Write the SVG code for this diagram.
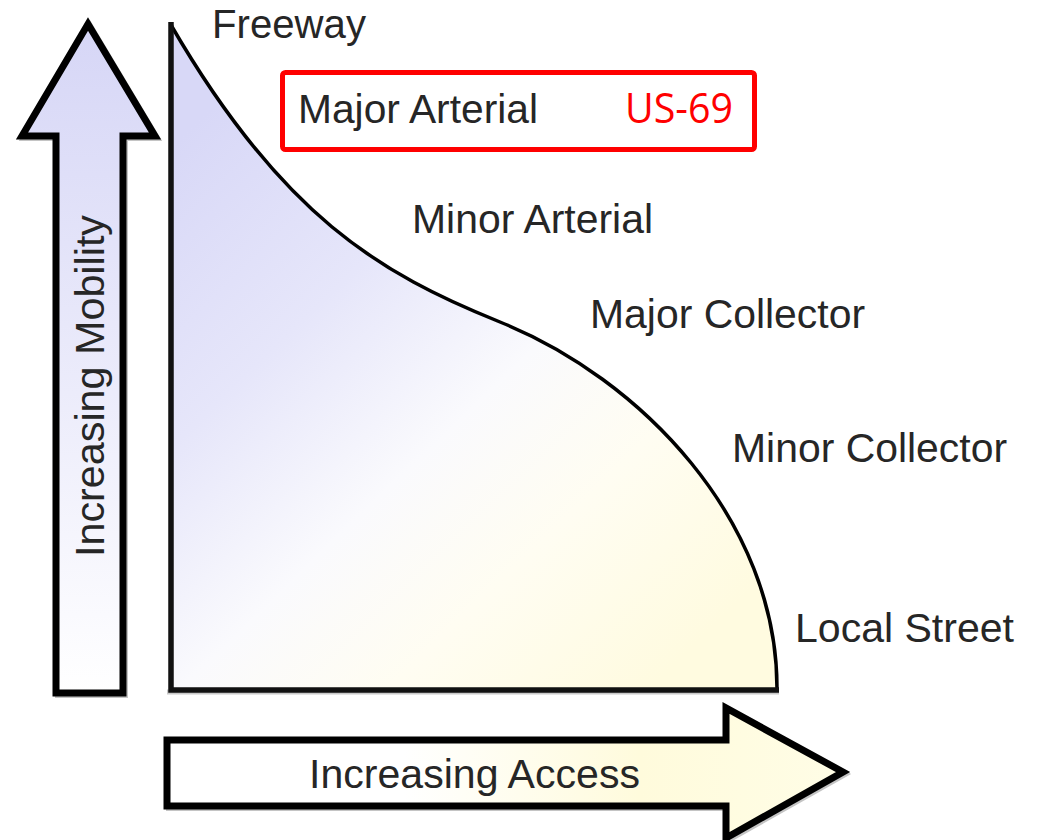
<svg xmlns="http://www.w3.org/2000/svg" width="1041" height="840" viewBox="0 0 1041 840">
  <defs>
    <linearGradient id="gMob" x1="0" y1="0" x2="0" y2="1">
      <stop offset="0" stop-color="#d6d6f6"/>
      <stop offset="0.55" stop-color="#ececfb"/>
      <stop offset="1" stop-color="#ffffff"/>
    </linearGradient>
    <linearGradient id="gArea" gradientUnits="userSpaceOnUse" x1="220" y1="100" x2="720" y2="620">
      <stop offset="0" stop-color="#d8d8f7"/>
      <stop offset="0.3" stop-color="#e6e6fa"/>
      <stop offset="0.55" stop-color="#fafafd"/>
      <stop offset="0.75" stop-color="#fffdf2"/>
      <stop offset="1" stop-color="#fffbe0"/>
    </linearGradient>
    <linearGradient id="gAcc" gradientUnits="userSpaceOnUse" x1="167" y1="0" x2="843" y2="0">
      <stop offset="0" stop-color="#ffffff"/>
      <stop offset="0.35" stop-color="#ffffff"/>
      <stop offset="0.7" stop-color="#fffbdc"/>
      <stop offset="1" stop-color="#fffde6"/>
    </linearGradient>
  </defs>
  <style>
    .lbl { font-family: "Liberation Sans", Arial, sans-serif; font-size: 40.5px; fill: #262626; }
    .us { font-family: "Open Sans", "Noto Sans", sans-serif; font-size: 42px; fill: #ff0000; }
    .shadow { fill: none; stroke: #c4c4c4; stroke-width: 6; }
    .outline { stroke: #000; stroke-width: 7; stroke-linejoin: miter; }
  </style>

  <g id="mobility-arrow">
    <polygon class="shadow" points="58,695 58,138 24,138 90,26 157,138 125,138 125,695"/>
    <polygon class="outline" fill="url(#gMob)" points="56,693 56,136 22,136 88,24 155,136 123,136 123,693"/>
    <text class="lbl" transform="translate(104,557) rotate(-90)" textLength="342" lengthAdjust="spacingAndGlyphs">Increasing Mobility</text>
  </g>

  <g id="access-arrow">
    <polygon class="shadow" points="169,742 728,742 728,710 845,774 728,840 728,808 169,808"/>
    <polygon class="outline" fill="url(#gAcc)" points="167,740 726,740 726,708 843,772 726,838 726,806 167,806"/>
    <text class="lbl" x="309" y="788" textLength="331" lengthAdjust="spacingAndGlyphs">Increasing Access</text>
  </g>

  <g id="classification-area">
    <path d="M171,25 C281,215 380,274 500,322 C640,378 778,520 777,690 L171,690 Z" fill="url(#gArea)" stroke="none"/>
    <path d="M167,692 L171,692 L779,692" fill="none" stroke="#c8c8c8" stroke-width="5"/>
    <path d="M171,25 C281,215 380,274 500,322 C640,378 778,520 777,690" fill="none" stroke="#000" stroke-width="3.5"/>
    <path d="M171,22 L171,690 L779,690" fill="none" stroke="#111" stroke-width="5.5" stroke-linejoin="miter"/>
  </g>

  <g id="freeway">
    <text class="lbl" x="212" y="38" textLength="154" lengthAdjust="spacingAndGlyphs">Freeway</text>
  </g>

  <g id="major-arterial">
    <rect x="282.5" y="72.5" width="472" height="77" rx="3" fill="#ffffff" stroke="#ff0000" stroke-width="5"/>
    <text class="lbl" x="298" y="123" textLength="240" lengthAdjust="spacingAndGlyphs">Major Arterial</text>
    <text class="us" x="625" y="123" textLength="108" lengthAdjust="spacingAndGlyphs">US-69</text>
  </g>

  <g id="minor-arterial">
    <text class="lbl" x="412" y="233" textLength="241" lengthAdjust="spacingAndGlyphs">Minor Arterial</text>
  </g>

  <g id="major-collector">
    <text class="lbl" x="590" y="328" textLength="275" lengthAdjust="spacingAndGlyphs">Major Collector</text>
  </g>

  <g id="minor-collector">
    <text class="lbl" x="732" y="462" textLength="275" lengthAdjust="spacingAndGlyphs">Minor Collector</text>
  </g>

  <g id="local-street">
    <text class="lbl" x="795" y="642" textLength="219" lengthAdjust="spacingAndGlyphs">Local Street</text>
  </g>

  <g id="connectors"/>
</svg>
